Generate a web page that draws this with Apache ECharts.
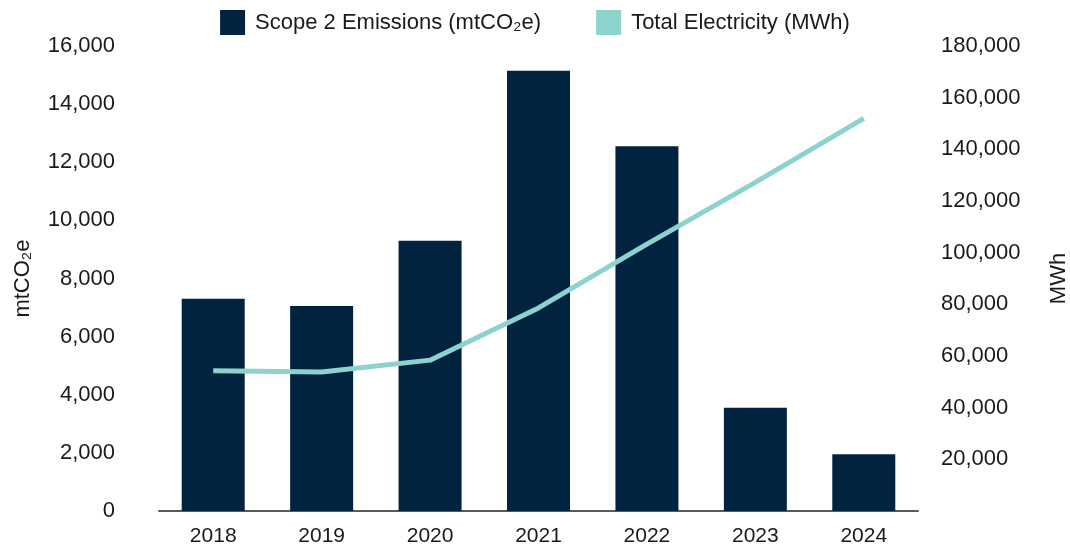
<!DOCTYPE html>
<html>
<head>
<meta charset="utf-8">
<script src="https://cdn.jsdelivr.net/npm/echarts@6/dist/echarts.min.js"></script>
<style>
html,body{margin:0;padding:0;background:#fff;}
#chart{width:1070px;height:548px;}
</style>
</head>
<body>
<div id="chart"></div>
<script>
const years = ['2018','2019','2020','2021','2022','2023','2024'];
const scope2Emissions = [7300, 7050, 9300, 15150, 12550, 3550, 1950];
const totalElectricity = [54300, 53800, 58400, 78600, 103300, 127200, 152000];
const leftTicks = {min: 0, max: 16000, interval: 2000};
const rightTicks = {min: 0, max: 180000, interval: 20000};

const FONT = '"Liberation Sans", Arial, sans-serif';
const TXT = '#1a1a1a';
const chart = echarts.init(document.getElementById('chart'));
const fmt = v => v.toLocaleString('en-US');
chart.setOption({
  animation: false,
  textStyle: {fontFamily: FONT},
  legend: {
    top: 10, left: 'center', padding: 0,
    itemWidth: 25, itemHeight: 25, itemGap: 55,
    textStyle: {fontSize: 22, color: TXT, fontFamily: FONT, padding: [0, 0, 0, 5]},
    data: [
      {name: 'Scope 2 Emissions (mtCO₂e)', icon: 'rect'},
      {name: 'Total Electricity (MWh)', icon: 'rect', itemStyle: {color: '#8dd3cd'}}
    ]
  },
  grid: {left: 159, right: 152, top: 46, bottom: 37, containLabel: false, outerBoundsMode: 'none'},
  xAxis: {
    type: 'category', data: years,
    axisLine: {lineStyle: {color: '#5a5a5a', width: 2}},
    axisTick: {show: false},
    axisLabel: {fontSize: 21, color: TXT, margin: 15, fontFamily: FONT}
  },
  yAxis: [
    {
      type: 'value', min: leftTicks.min, max: leftTicks.max, interval: leftTicks.interval,
      name: 'mtCO₂e', nameLocation: 'middle', nameGap: 125, nameRotate: 90,
      nameTextStyle: {fontSize: 22, color: TXT, fontFamily: FONT},
      axisLine: {show: false}, axisTick: {show: false}, splitLine: {show: false},
      axisLabel: {fontSize: 22, color: TXT, margin: 44, formatter: fmt, fontFamily: FONT}
    },
    {
      type: 'value', min: rightTicks.min, max: rightTicks.max, interval: rightTicks.interval,
      name: 'MWh', nameLocation: 'middle', nameGap: 130, nameRotate: 90,
      nameTextStyle: {fontSize: 22, color: TXT, fontFamily: FONT},
      axisLine: {show: false}, axisTick: {show: false}, splitLine: {show: false},
      axisLabel: {fontSize: 22, color: TXT, margin: 23, formatter: fmt, showMinLabel: false, fontFamily: FONT}
    }
  ],
  series: [
    {
      name: 'Scope 2 Emissions (mtCO₂e)', type: 'bar', data: scope2Emissions,
      barWidth: 63, itemStyle: {color: '#012340'}, yAxisIndex: 0
    },
    {
      name: 'Total Electricity (MWh)', type: 'line', data: totalElectricity,
      yAxisIndex: 1, symbol: 'none', lineStyle: {color: '#8dd3cd', width: 5},
      itemStyle: {color: '#8dd3cd'}
    }
  ]
});
</script>
</body>
</html>
